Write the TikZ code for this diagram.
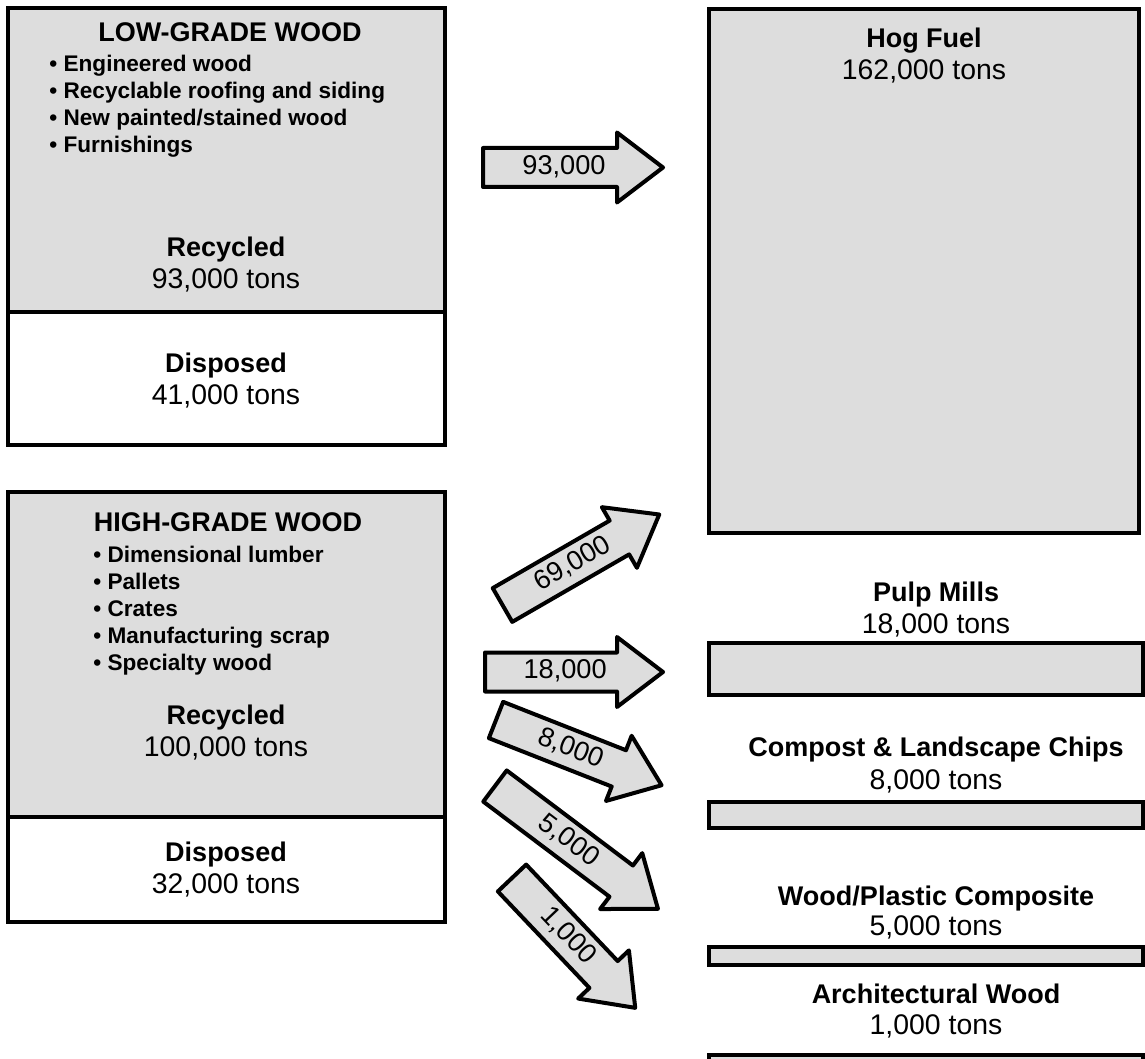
\documentclass[tikz,border=0pt]{standalone}
\usepackage{fontspec}
\setmainfont{Liberation Sans}
\definecolor{woodgray}{HTML}{DDDDDD}

% block arrow: name, tail point, angle, length, label
\newcommand{\flowarrow}[5]{%
  \begin{scope}[shift={#2}, rotate=#3]
    \draw[flow] (0,-19.5) -- ({#4-46},-19.5) -- ({#4-46},-35) -- (#4,0) -- ({#4-46},35) -- ({#4-46},19.5) -- (0,19.5) -- cycle;
    \node[flowlbl, rotate=#3] (#1) at ({0.45*#4},0) {#5};
  \end{scope}}

\begin{document}
\begin{tikzpicture}[x=0.5pt, y=-0.5pt,
  every node/.style={inner sep=0pt, text height=9.7pt, text depth=2.8pt},
  woodbox/.style={draw, line width=2pt, fill=woodgray},
  plainbox/.style={draw, line width=2pt, fill=white},
  flow/.style={draw, line width=2pt, line join=round, fill=woodgray},
  ttl/.style={font=\bfseries\fontsize{13.5}{16}\selectfont},
  qty/.style={font=\fontsize{14.2}{16}\selectfont},
  items/.style={anchor=west, align=left, text height=, text depth=, font=\bfseries\fontsize{11.3}{13.5}\selectfont},
  flowlbl/.style={font=\fontsize{13.6}{15}\selectfont}]
  \useasboundingbox (0,0) rectangle (1145,1059);

  % low-grade wood
  \draw[woodbox] (8,8) rectangle (445,312);
  \draw[plainbox] (8,312) rectangle (445,445);
  \node[ttl] (lowttl) at (230,35) {LOW-GRADE WOOD};
  \node[items] (lowlist) at (49,106) {\textbullet\ Engineered wood\\ \textbullet\ Recyclable roofing and siding\\ \textbullet\ New painted/stained wood\\ \textbullet\ Furnishings};
  \node[ttl] (lowrec) at (226,250) {Recycled};
  \node[qty] (lowrecqty) at (226,282) {93,000 tons};
  \node[ttl] (lowdisp) at (226,366) {Disposed};
  \node[qty] (lowdispqty) at (226,398) {41,000 tons};

  % high-grade wood
  \draw[woodbox] (8,492) rectangle (445,817);
  \draw[plainbox] (8,817) rectangle (445,922);
  \node[ttl] (highttl) at (228,525) {HIGH-GRADE WOOD};
  \node[items] (highlist) at (93,611) {\textbullet\ Dimensional lumber\\ \textbullet\ Pallets\\ \textbullet\ Crates\\ \textbullet\ Manufacturing scrap\\ \textbullet\ Specialty wood};
  \node[ttl] (highrec) at (226,718) {Recycled};
  \node[qty] (highrecqty) at (226,750) {100,000 tons};
  \node[ttl] (highdisp) at (226,855) {Disposed};
  \node[qty] (highdispqty) at (226,887) {32,000 tons};

  % end markets
  \draw[woodbox] (709,9) rectangle (1139,533);
  \node[ttl] (hogttl) at (924,41) {Hog Fuel};
  \node[qty] (hogqty) at (924,73) {162,000 tons};

  \node[ttl] (pulpttl) at (936,595) {Pulp Mills};
  \node[qty] (pulpqty) at (936,627) {18,000 tons};
  \draw[woodbox] (709,643) rectangle (1143,695);

  \node[ttl] (compttl) at (936,750) {Compost \& Landscape Chips};
  \node[qty] (compqty) at (936,783) {8,000 tons};
  \draw[woodbox] (709,802) rectangle (1143,828);

  \node[ttl] (wpcttl) at (936,899) {Wood/Plastic Composite};
  \node[qty] (wpcqty) at (936,929) {5,000 tons};
  \draw[woodbox] (709,947) rectangle (1143,965);

  \node[ttl] (archttl) at (936,997) {Architectural Wood};
  \node[qty] (archqty) at (936,1028) {1,000 tons};
  \draw[woodbox] (709,1055) rectangle (1143,1075);

  % flows
  \flowarrow{f93}{(483,167.5)}{0}{180}{93,000}
  \flowarrow{f69}{(502.5,605)}{30}{181}{69,000}
  \flowarrow{f18}{(485,672)}{0}{178}{18,000}
  \flowarrow{f8}{(496,720)}{-21.5}{178}{8,000}
  \flowarrow{f5}{(495,786)}{-37}{204}{5,000}
  \flowarrow{f1}{(512,878)}{-46.5}{179}{1,000}
\end{tikzpicture}
\end{document}
